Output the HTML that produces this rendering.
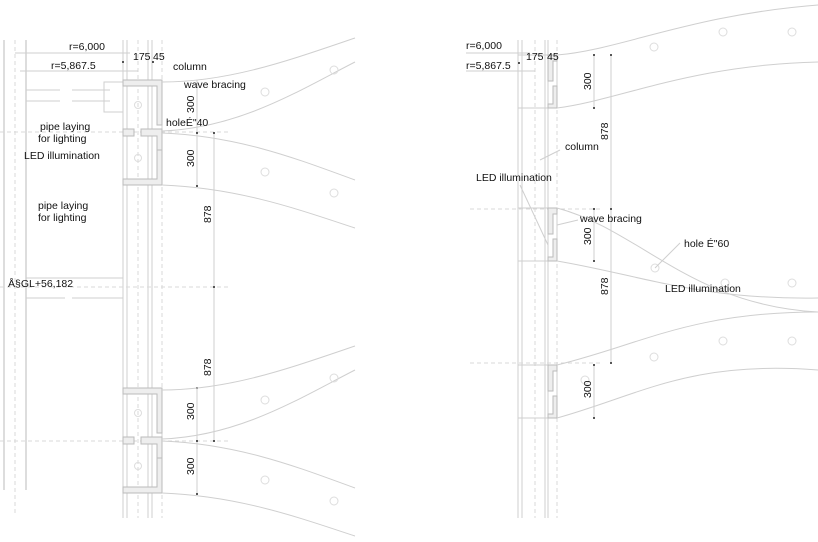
<!DOCTYPE html>
<html><head><meta charset="utf-8"><style>
html,body{margin:0;padding:0;background:#fff;}
svg{display:block;font-family:"Liberation Sans",sans-serif;font-size:10.5px;}
.l{stroke:#cfcfcf;stroke-width:1;fill:none}
.d{stroke:#d8d8d8;stroke-width:1;fill:none;stroke-dasharray:4 3}
.k{stroke:#bbb;stroke-width:1;fill:none}
.h{fill:#eee;stroke:#bbb;stroke-width:1}
.c{fill:none;stroke:#ddd;stroke-width:1}
text{fill:#111}
</style></head><body>
<svg width="818" height="542" viewBox="0 0 818 542" xmlns="http://www.w3.org/2000/svg">
<!-- LEFT PANEL -->
<line class="k" x1="4" y1="40" x2="4" y2="490"/>
<line class="d" x1="15" y1="40" x2="15" y2="515"/>
<line class="k" x1="26" y1="40" x2="26" y2="490"/>
<line class="l" x1="123" y1="40" x2="123" y2="518"/>
<line class="l" x1="127" y1="40" x2="127" y2="518"/>
<line class="d" x1="138" y1="40" x2="138" y2="518"/>
<line class="l" x1="148" y1="40" x2="148" y2="518"/>
<line class="l" x1="152" y1="40" x2="152" y2="518"/>
<line class="d" x1="162" y1="40" x2="162" y2="518"/>
<line class="l" x1="15" y1="53" x2="130" y2="53"/>
<line class="l" x1="20" y1="71" x2="138" y2="71"/>
<line class="d" x1="0" y1="132" x2="230" y2="132"/>
<line class="d" x1="0" y1="287" x2="230" y2="287"/>
<line class="d" x1="0" y1="441" x2="230" y2="441"/>
<line class="l" x1="26" y1="90" x2="60" y2="90"/><line class="l" x1="72" y1="90" x2="110" y2="90"/>
<line class="l" x1="26" y1="101" x2="60" y2="101"/><line class="l" x1="72" y1="101" x2="110" y2="101"/>
<rect class="l" x="104" y="82" width="19" height="30"/>
<line class="l" x1="26" y1="298" x2="65" y2="298"/><line class="l" x1="72" y1="298" x2="123" y2="298"/>
<line class="l" x1="26" y1="278" x2="123" y2="278"/>
<g id="brk">
<rect class="l" x="123" y="80" width="39" height="105"/>
<path class="h" d="M123 80h39v45h-5v-39h-34z"/>
<path class="h" d="M123 129h11v7h-11z M141 129h21v30h-5v-23h-16z"/>
<path class="h" d="M157 150h5v35h-39v-6h34z"/>
<circle class="c" cx="138" cy="105" r="3.5"/><circle class="c" cx="138" cy="158" r="3.5"/>
</g>
<use href="#brk" y="308"/>
<line class="l" x1="197" y1="80" x2="197" y2="186"/>
<line class="l" x1="214" y1="133" x2="214" y2="441"/>
<line class="l" x1="197" y1="388" x2="197" y2="494"/>
<g fill="#222"><circle cx="197" cy="133" r="1"/><circle cx="197" cy="186" r="1"/><circle cx="214" cy="133" r="1"/><circle cx="214" cy="287" r="1"/><circle cx="214" cy="441" r="1"/><circle cx="197" cy="388" r="1"/><circle cx="197" cy="441" r="1"/><circle cx="197" cy="494" r="1"/><circle cx="123" cy="62" r="1"/><circle cx="153" cy="62" r="1"/></g>
<g id="wv">
<path class="l" d="M162 82 C230 82 290 60 355 38"/>
<path class="l" d="M162 131 C240 128 300 90 355 62"/>
<path class="l" d="M162 133 C240 136 300 160 355 180"/>
<path class="l" d="M162 185 C240 188 300 210 355 228"/>
<circle class="c" cx="265" cy="92" r="4"/><circle class="c" cx="334" cy="70" r="4"/>
<circle class="c" cx="265" cy="172" r="4"/><circle class="c" cx="334" cy="193" r="4"/>
</g>
<use href="#wv" y="308"/>
<text x="69" y="50">r=6,000</text>
<text x="133" y="60">175</text><text x="153" y="60">45</text>
<text x="51" y="69">r=5,867.5</text>
<text x="173" y="70">column</text>
<text x="184" y="88">wave bracing</text>
<text x="166" y="126">holeÉ"40</text>
<text x="40" y="130">pipe laying</text><text x="38" y="142">for lighting</text>
<text x="24" y="159">LED illumination</text>
<text x="38" y="209">pipe laying</text><text x="38" y="221">for lighting</text>
<text x="8" y="287">Å§GL+56,182</text>
<text transform="translate(194,113) rotate(-90)">300</text>
<text transform="translate(194,167) rotate(-90)">300</text>
<text transform="translate(211,223) rotate(-90)">878</text>
<text transform="translate(211,376) rotate(-90)">878</text>
<text transform="translate(194,420) rotate(-90)">300</text>
<text transform="translate(194,475) rotate(-90)">300</text>
<!-- RIGHT PANEL -->
<line class="l" x1="518" y1="40" x2="518" y2="518"/>
<line class="l" x1="522" y1="40" x2="522" y2="518"/>
<line class="d" x1="535" y1="40" x2="535" y2="518"/>
<line class="l" x1="545" y1="40" x2="545" y2="518"/>
<line class="l" x1="548" y1="40" x2="548" y2="518"/>
<line class="d" x1="557" y1="40" x2="557" y2="518"/>
<line class="l" x1="466" y1="53" x2="530" y2="53"/>
<line class="l" x1="466" y1="71" x2="535" y2="71"/>
<line class="d" x1="470" y1="209" x2="600" y2="209"/>
<line class="d" x1="470" y1="363" x2="600" y2="363"/>
<g id="rb">
<rect class="l" x="518" y="55" width="39" height="53"/>
<path class="h" d="M548 55h9v6h-4v20h-5z M553 86h4v22h-9v-4h5z"/>
</g>
<use href="#rb" y="153"/><use href="#rb" y="310"/>
<line class="l" x1="594" y1="55" x2="594" y2="108"/>
<line class="l" x1="611" y1="55" x2="611" y2="363"/>
<line class="l" x1="594" y1="208" x2="594" y2="261"/>
<line class="l" x1="594" y1="365" x2="594" y2="418"/>
<g fill="#222"><circle cx="594" cy="55" r="1"/><circle cx="611" cy="55" r="1"/><circle cx="594" cy="108" r="1"/><circle cx="594" cy="209" r="1"/><circle cx="611" cy="209" r="1"/><circle cx="594" cy="261" r="1"/><circle cx="611" cy="363" r="1"/><circle cx="594" cy="365" r="1"/><circle cx="594" cy="418" r="1"/><circle cx="519" cy="63" r="1"/></g>
<path class="l" d="M557 55 C620 50 690 15 818 5"/>
<path class="l" d="M557 108 C620 100 690 65 818 62"/>
<path class="l" d="M557 208 C640 230 690 305 818 312"/>
<path class="l" d="M557 261 C640 275 700 300 818 298"/>
<path class="l" d="M557 365 C640 345 690 312 818 312"/>
<path class="l" d="M557 418 C640 395 690 360 818 370"/>
<g class="c"><circle cx="654" cy="47" r="4"/><circle cx="723" cy="32" r="4"/><circle cx="792" cy="32" r="4"/><circle cx="655" cy="268" r="4"/><circle cx="725" cy="283" r="4"/><circle cx="792" cy="283" r="4"/><circle cx="654" cy="357" r="4"/><circle cx="723" cy="341" r="4"/><circle cx="792" cy="341" r="4"/><circle cx="585" cy="380" r="4"/></g>
<line class="l" x1="540" y1="160" x2="560" y2="150"/>
<line class="l" x1="520" y1="185" x2="548" y2="245"/>
<line class="l" x1="557" y1="225" x2="578" y2="220"/>
<line class="l" x1="655" y1="268" x2="680" y2="243"/>
<text x="466" y="49">r=6,000</text>
<text x="526" y="60">175</text><text x="547" y="60">45</text>
<text x="466" y="69">r=5,867.5</text>
<text x="565" y="150">column</text>
<text x="476" y="181">LED illumination</text>
<text x="580" y="222">wave bracing</text>
<text x="684" y="247">hole É"60</text>
<text x="665" y="292">LED illumination</text>
<text transform="translate(591,90) rotate(-90)">300</text>
<text transform="translate(608,140) rotate(-90)">878</text>
<text transform="translate(591,245) rotate(-90)">300</text>
<text transform="translate(608,295) rotate(-90)">878</text>
<text transform="translate(591,398) rotate(-90)">300</text>
</svg>
</body></html>
